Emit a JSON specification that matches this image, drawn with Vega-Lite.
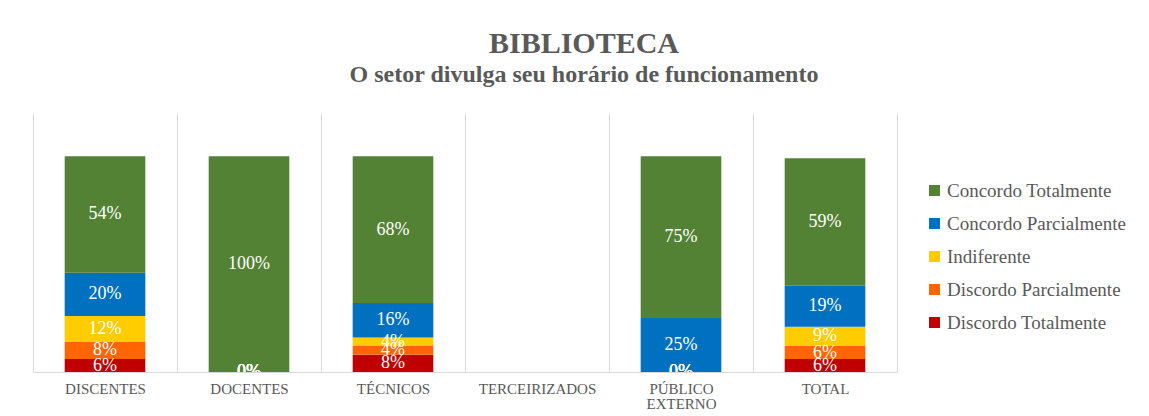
{
  "$schema": "https://vega.github.io/schema/vega-lite/v6.json",
  "width": 864,
  "height": 259,
  "autosize": {"type": "none"},
  "padding": {"left": 33, "top": 113, "right": 252, "bottom": 44},
  "background": "white",
  "title": {
    "text": "BIBLIOTECA",
    "subtitle": "O setor divulga seu horário de funcionamento",
    "anchor": "middle",
    "frame": "group",
    "dx": 119,
    "offset": 26,
    "font": "Liberation Serif",
    "fontSize": 30,
    "fontWeight": "bold",
    "color": "#595959",
    "subtitleFont": "Liberation Serif",
    "subtitleFontSize": 24,
    "subtitleFontWeight": "bold",
    "subtitleColor": "#595959",
    "subtitlePadding": 4
  },
  "config": {"view": {"stroke": null}, "font": "Liberation Serif"},
  "data": {
    "values": [
      {"grupo": "DISCENTES", "cat": "Discordo Totalmente", "o": 1, "v": 0.06},
      {"grupo": "DISCENTES", "cat": "Discordo Parcialmente", "o": 2, "v": 0.08},
      {"grupo": "DISCENTES", "cat": "Indiferente", "o": 3, "v": 0.12},
      {"grupo": "DISCENTES", "cat": "Concordo Parcialmente", "o": 4, "v": 0.20},
      {"grupo": "DISCENTES", "cat": "Concordo Totalmente", "o": 5, "v": 0.54},
      {"grupo": "DOCENTES", "cat": "Discordo Totalmente", "o": 1, "v": 0},
      {"grupo": "DOCENTES", "cat": "Discordo Parcialmente", "o": 2, "v": 0},
      {"grupo": "DOCENTES", "cat": "Indiferente", "o": 3, "v": 0},
      {"grupo": "DOCENTES", "cat": "Concordo Parcialmente", "o": 4, "v": 0},
      {"grupo": "DOCENTES", "cat": "Concordo Totalmente", "o": 5, "v": 1.0},
      {"grupo": "TÉCNICOS", "cat": "Discordo Totalmente", "o": 1, "v": 0.08},
      {"grupo": "TÉCNICOS", "cat": "Discordo Parcialmente", "o": 2, "v": 0.04},
      {"grupo": "TÉCNICOS", "cat": "Indiferente", "o": 3, "v": 0.04},
      {"grupo": "TÉCNICOS", "cat": "Concordo Parcialmente", "o": 4, "v": 0.16},
      {"grupo": "TÉCNICOS", "cat": "Concordo Totalmente", "o": 5, "v": 0.68},
      {"grupo": "TERCEIRIZADOS", "cat": "Discordo Totalmente", "o": 1, "v": 0},
      {"grupo": "TERCEIRIZADOS", "cat": "Discordo Parcialmente", "o": 2, "v": 0},
      {"grupo": "TERCEIRIZADOS", "cat": "Indiferente", "o": 3, "v": 0},
      {"grupo": "TERCEIRIZADOS", "cat": "Concordo Parcialmente", "o": 4, "v": 0},
      {"grupo": "TERCEIRIZADOS", "cat": "Concordo Totalmente", "o": 5, "v": 0},
      {"grupo": "PÚBLICO EXTERNO", "cat": "Discordo Totalmente", "o": 1, "v": 0},
      {"grupo": "PÚBLICO EXTERNO", "cat": "Discordo Parcialmente", "o": 2, "v": 0},
      {"grupo": "PÚBLICO EXTERNO", "cat": "Indiferente", "o": 3, "v": 0},
      {"grupo": "PÚBLICO EXTERNO", "cat": "Concordo Parcialmente", "o": 4, "v": 0.25},
      {"grupo": "PÚBLICO EXTERNO", "cat": "Concordo Totalmente", "o": 5, "v": 0.75},
      {"grupo": "TOTAL", "cat": "Discordo Totalmente", "o": 1, "v": 0.06},
      {"grupo": "TOTAL", "cat": "Discordo Parcialmente", "o": 2, "v": 0.06},
      {"grupo": "TOTAL", "cat": "Indiferente", "o": 3, "v": 0.09},
      {"grupo": "TOTAL", "cat": "Concordo Parcialmente", "o": 4, "v": 0.19},
      {"grupo": "TOTAL", "cat": "Concordo Totalmente", "o": 5, "v": 0.59}
    ]
  },
  "transform": [
    {"stack": "v", "groupby": ["grupo"], "sort": [{"field": "o", "order": "ascending"}], "as": ["v0", "v1"]},
    {"calculate": "(datum.v0 + datum.v1) / 2", "as": "vm"}
  ],
  "layer": [
    {
      "mark": {"type": "bar", "width": {"band": 0.56}},
      "encoding": {
        "x": {
          "field": "grupo",
          "type": "nominal",
          "sort": ["DISCENTES", "DOCENTES", "TÉCNICOS", "TERCEIRIZADOS", "PÚBLICO EXTERNO", "TOTAL"],
          "scale": {"paddingInner": 0, "paddingOuter": 0},
          "axis": {
            "title": null,
            "labelAngle": 0,
            "labelExpr": "split(datum.label, ' ')",
            "labelFont": "Liberation Serif",
            "labelFontSize": 15,
            "labelColor": "#595959",
            "labelLineHeight": 15,
            "labelPadding": 9,
            "ticks": false,
            "tickBand": "extent",
            "grid": true,
            "gridColor": "#D9D9D9",
            "domainColor": "#D9D9D9"
          }
        },
        "y": {"field": "v0", "type": "quantitative", "scale": {"domain": [0, 1.2]}, "axis": null},
        "y2": {"field": "v1"},
        "color": {
          "field": "cat",
          "type": "nominal",
          "scale": {
            "domain": ["Concordo Totalmente", "Concordo Parcialmente", "Indiferente", "Discordo Parcialmente", "Discordo Totalmente"],
            "range": ["#548235", "#0070C0", "#FFCC00", "#FF6600", "#C00000"]
          },
          "legend": {
            "title": null,
            "orient": "none",
            "legendX": 892,
            "legendY": 68,
            "symbolType": "square",
            "symbolSize": 121,
            "symbolStrokeWidth": 0,
            "labelFont": "Liberation Serif",
            "labelFontSize": 19,
            "labelColor": "#595959",
            "labelOffset": 3,
            "rowPadding": 13,
            "labelLimit": 300
          }
        }
      }
    },
    {
      "mark": {"type": "text", "clip": true, "color": "white", "font": "Liberation Serif", "fontSize": 18, "baseline": "middle"},
      "encoding": {
        "x": {"field": "grupo", "type": "nominal", "sort": ["DISCENTES", "DOCENTES", "TÉCNICOS", "TERCEIRIZADOS", "PÚBLICO EXTERNO", "TOTAL"]},
        "y": {"field": "vm", "type": "quantitative"},
        "text": {"field": "v", "type": "quantitative", "format": ".0%"}
      }
    }
  ]
}
